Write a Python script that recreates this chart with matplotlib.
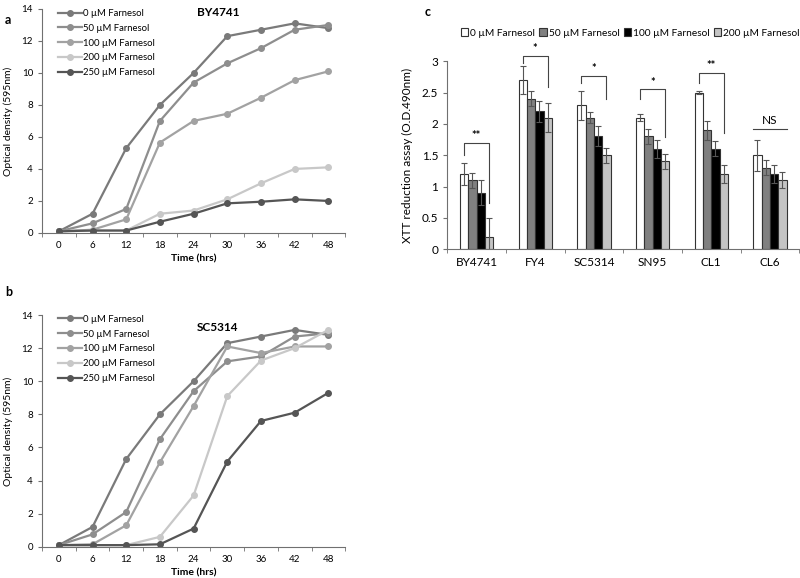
import numpy as np
import matplotlib
matplotlib.use("Agg")
import matplotlib.pyplot as plt

plt.rcParams['font.family'] = ['Lato', 'DejaVu Sans']

# %% data
hours = ["0", "6", "12", "18", "24", "30", "36", "42", "48"]
conc_labels = ["0 µM Farnesol", "50 µM Farnesol", "100 µM Farnesol",
               "200 µM Farnesol", "250 µM Farnesol"]

by4741_0 = [0.1, 1.2, 5.3, 8.0, 10.0, 12.3, 12.7, 13.1, 12.8]
by4741_50 = [0.1, 0.6, 1.5, 7.0, 9.4, 10.6, 11.55, 12.7, 13.0]
by4741_100 = [0.1, 0.2, 0.85, 5.65, 7.0, 7.45, 8.45, 9.55, 10.1]
by4741_200 = [0.1, 0.15, 0.15, 1.2, 1.4, 2.1, 3.1, 4.0, 4.1]
by4741_250 = [0.1, 0.15, 0.15, 0.7, 1.2, 1.85, 1.95, 2.1, 2.0]

sc5314_0 = [0.1, 1.2, 5.3, 8.0, 10.0, 12.3, 12.7, 13.1, 12.8]
sc5314_50 = [0.1, 0.75, 2.1, 6.5, 9.4, 11.2, 11.5, 12.7, 12.9]
sc5314_100 = [0.1, 0.15, 1.3, 5.1, 8.5, 12.1, 11.7, 12.1, 12.1]
sc5314_200 = [0.1, 0.1, 0.1, 0.6, 3.1, 9.1, 11.25, 12.0, 13.1]
sc5314_250 = [0.1, 0.1, 0.1, 0.15, 1.1, 5.15, 7.6, 8.1, 9.3]

strains = ["BY4741", "FY4", "SC5314", "SN95", "CL1", "CL6"]
bar_labels = ["0 µM Farnesol", "50 µM Farnesol", "100 µM Farnesol", "200 µM Farnesol"]
xtt_0 = [1.2, 2.7, 2.3, 2.1, 2.5, 1.5]
xtt_50 = [1.1, 2.4, 2.1, 1.8, 1.9, 1.3]
xtt_100 = [0.9, 2.2, 1.8, 1.6, 1.6, 1.2]
xtt_200 = [0.2, 2.1, 1.5, 1.4, 1.2, 1.1]
err_0 = [0.17, 0.22, 0.23, 0.05, 0.02, 0.25]
err_50 = [0.12, 0.12, 0.09, 0.12, 0.15, 0.12]
err_100 = [0.2, 0.17, 0.16, 0.15, 0.12, 0.15]
err_200 = [0.3, 0.23, 0.12, 0.12, 0.14, 0.13]

# significance brackets: (strain idx, top, left leg end, right leg end, label)
brackets = [(0, 1.70, 1.50, 0.74, "**"),
            (1, 3.09, 2.98, 2.59, "*"),
            (2, 2.77, 2.66, 2.39, "*"),
            (3, 2.55, 2.39, 1.79, "*"),
            (4, 2.82, 2.65, 1.86, "**")]
ns_level = 1.92

line_colors = ["#7a7a7a", "#8e8e8e", "#a2a2a2", "#c8c8c8", "#555555"]
bar_colors = ["white", "#808080", "black", "#c4c4c4"]
axis_col = "#707070"

fig = plt.figure(figsize=(8, 5.78), dpi=100)


def growth_panel(rect, series, title, title_y, letter, letter_y):
    ax = fig.add_axes(rect)
    x = np.arange(len(hours))
    for vals, lab, col in zip(series, conc_labels, line_colors):
        ax.plot(x, vals, color=col, lw=1.6, marker="o", ms=4, label=lab)
    ax.set_xlim(-0.5, len(hours) - 0.5)
    ax.set_ylim(0, 14)
    ax.set_yticks(range(0, 15, 2))
    ax.set_xticks(x)
    ax.set_xticklabels(hours)
    ax.set_xticks(np.arange(-0.5, len(hours)), minor=True)
    ax.tick_params(axis="x", which="major", length=0, labelsize=7, pad=6)
    ax.tick_params(axis="x", which="minor", length=3, color=axis_col)
    ax.tick_params(axis="y", length=3, color=axis_col, labelsize=7)
    for s in ["top", "right"]:
        ax.spines[s].set_visible(False)
    for s in ["left", "bottom"]:
        ax.spines[s].set_color(axis_col)
    ax.set_xlabel("Time (hrs)", fontsize=7.5, fontweight="bold", labelpad=3)
    ax.set_ylabel("Optical density (595nm)", fontsize=7.5, labelpad=6)
    ax.text(0.58, title_y, title, transform=ax.transAxes, ha="center",
            va="center", fontsize=8.5, fontweight="bold")
    ax.legend(loc="upper left", bbox_to_anchor=(0.03, 1.03), frameon=False,
              fontsize=6.8, handlelength=2.6, handletextpad=0.1,
              labelspacing=0.62, borderpad=0.2)
    fig.text(0.006, letter_y, letter, fontsize=9, fontweight="bold", va="center")
    return ax


ax_a = growth_panel([0.0525, 0.597, 0.379, 0.3875],
                    [by4741_0, by4741_50, by4741_100, by4741_200, by4741_250],
                    "BY4741", 0.985, "a", 1 - 20 / 578)
ax_b = growth_panel([0.0525, 0.054, 0.379, 0.401],
                    [sc5314_0, sc5314_50, sc5314_100, sc5314_200, sc5314_250],
                    "SC5314", 0.948, "b", 1 - 292 / 578)

# %% panel c
ax_c = fig.add_axes([0.559, 0.569, 0.44, 0.325])
xc = np.arange(len(strains))
w = 0.142
means = [xtt_0, xtt_50, xtt_100, xtt_200]
errs = [err_0, err_50, err_100, err_200]
for i, (m, e, col, lab) in enumerate(zip(means, errs, bar_colors, bar_labels)):
    ax_c.bar(xc + (i - 1.5) * w, m, width=w, color=col, edgecolor="#333333",
             lw=0.8, yerr=e, capsize=2,
             error_kw=dict(ecolor="#555555", elinewidth=0.8, capthick=0.8),
             label=lab)

for idx, top, lft, rgt, lab in brackets:
    x0 = idx - 1.5 * w
    x1 = idx + 1.5 * w
    ax_c.plot([x0, x0, x1, x1], [lft, top, top, rgt], color="#444444",
              lw=0.8, clip_on=False)
    ax_c.text(idx, top + 0.02, lab, ha="center", va="bottom", fontsize=8,
              fontweight="bold", clip_on=False)
ax_c.plot([5 - 2 * w, 5 + 2 * w], [ns_level, ns_level], color="#444444", lw=0.8)
ax_c.text(5, ns_level + 0.05, "NS", ha="center", va="bottom", fontsize=8.5)

ax_c.set_xlim(-0.5, len(strains) - 0.5)
ax_c.set_ylim(0, 3)
ax_c.set_yticks([0, 0.5, 1, 1.5, 2, 2.5, 3])
ax_c.set_yticklabels(["0", "0.5", "1", "1.5", "2", "2.5", "3"])
ax_c.set_xticks(xc)
ax_c.set_xticklabels(strains)
ax_c.set_xticks(np.arange(-0.5, len(strains)), minor=True)
ax_c.tick_params(axis="x", which="major", length=0, labelsize=8.5, pad=6)
ax_c.tick_params(axis="x", which="minor", length=3, color=axis_col)
ax_c.tick_params(axis="y", length=3, color=axis_col, labelsize=8.5)
for s in ["top", "right"]:
    ax_c.spines[s].set_visible(False)
for s in ["left", "bottom"]:
    ax_c.spines[s].set_color(axis_col)
ax_c.set_ylabel("XTT reduction assay (O.D.490nm)", fontsize=8.5, labelpad=6)
ax_c.legend(loc="center", bbox_to_anchor=(0.52, 1.15), ncol=4,
            frameon=False, fontsize=7.3, handlelength=0.75, handleheight=0.75,
            handletextpad=0.2, columnspacing=0.4, borderpad=0)
fig.text(0.531, 1 - 12 / 578, "c", fontsize=9, fontweight="bold", va="center")

fig.savefig("out.png", dpi=100)
